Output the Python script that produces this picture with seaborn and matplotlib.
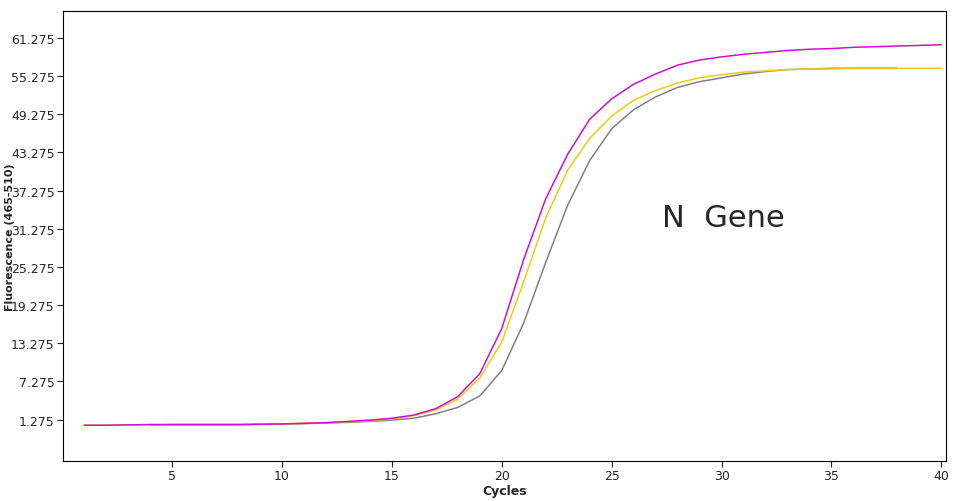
import numpy as np
import pandas as pd
import matplotlib
matplotlib.use("Agg")
import matplotlib.pyplot as plt
import seaborn as sns

cycles = list(range(1, 41))
magenta = [0.4, 0.4, 0.45, 0.5, 0.5, 0.5, 0.5, 0.5, 0.55, 0.6, 0.7, 0.8, 1.0, 1.2, 1.5, 2.0, 3.0, 4.9, 8.5, 15.6,
           26.5, 36.0, 43.0, 48.5, 51.7, 54.0, 55.6, 57.0, 57.8, 58.3, 58.7, 59.0, 59.3, 59.5, 59.6, 59.8, 59.9, 60.0, 60.1, 60.2]
yellow = [0.4, 0.4, 0.45, 0.5, 0.5, 0.5, 0.5, 0.5, 0.55, 0.6, 0.7, 0.8, 0.95, 1.1, 1.4, 1.9, 2.8, 4.5, 7.8, 13.5,
          23.0, 33.0, 40.5, 45.5, 49.0, 51.5, 53.0, 54.2, 55.0, 55.5, 55.9, 56.1, 56.3, 56.4, 56.4, 56.5, 56.5, 56.5, 56.5, 56.5]
gray = [None, None, None, 0.45, 0.5, 0.5, 0.5, 0.5, 0.55, 0.6, 0.65, 0.75, 0.85, 1.0, 1.2, 1.5, 2.2, 3.2, 5.0, 9.0,
        16.5, 26.0, 35.0, 42.0, 47.0, 50.0, 52.0, 53.5, 54.4, 55.0, 55.6, 56.0, 56.3, 56.4, 56.5, 56.5, 56.5, 56.5, None, None]

df = pd.DataFrame({"Cycles": cycles, "magenta": magenta, "yellow": yellow, "gray": gray})
long = df.melt(id_vars="Cycles", var_name="sample", value_name="F").dropna()

sns.set_style("white")
fig, ax = plt.subplots(figsize=(9.67, 5.02), dpi=100)
fig.subplots_adjust(left=0.065, right=0.978, top=0.976, bottom=0.08)
sns.lineplot(data=long, x="Cycles", y="F", hue="sample", hue_order=["gray", "yellow", "magenta"],
             palette={"gray": "#808080", "yellow": "#f0cc10", "magenta": "#d010d0"},
             linewidth=1.1, legend=False, ax=ax)

ax.set_xlim(0.03, 40.2)
ax.set_ylim(-5.2, 65.5)
ax.set_xticks([5, 10, 15, 20, 25, 30, 35, 40])
ax.set_yticks(np.arange(1.275, 62, 6))
ax.set_yticklabels([f"{v:.3f}" for v in np.arange(1.275, 62, 6)])
ax.tick_params(labelsize=9, length=4, direction="out", left=True, bottom=True, pad=2)
ax.set_xlabel("Cycles", fontsize=9, fontweight="bold", labelpad=1)
ax.set_ylabel("Fluorescence (465-510)", fontsize=8, fontweight="bold")
ax.yaxis.set_label_coords(-0.054, 0.5)
for s in ax.spines.values():
    s.set_color("black")
    s.set_linewidth(0.8)
ax.text(30.1, 33, "N  Gene", fontsize=22, ha="center", va="center")

fig.savefig("out.png")
